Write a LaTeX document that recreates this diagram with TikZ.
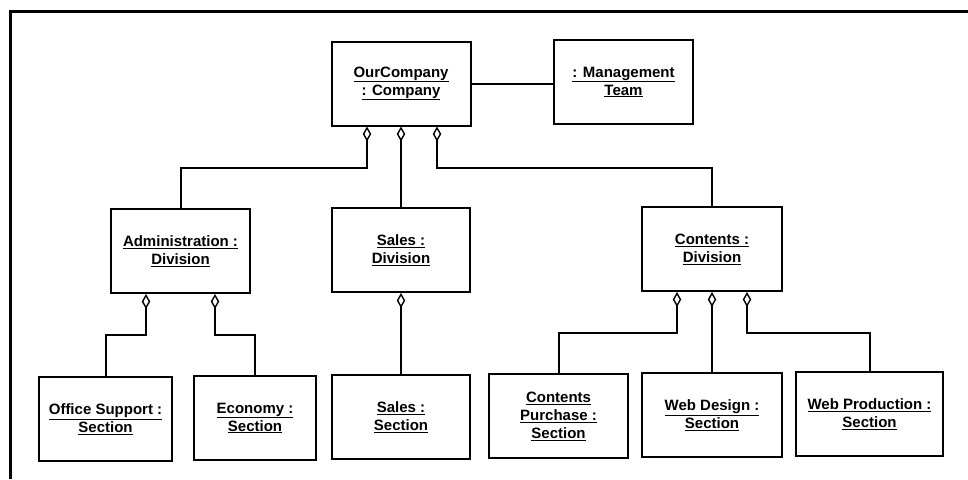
\documentclass[tikz,border=0pt]{standalone}
\usepackage{fontspec}
\setmainfont{Liberation Sans}
\usepackage{tikz}
\usetikzlibrary{arrows.meta}

\begin{document}
\begin{tikzpicture}[x=1pt,y=-1pt,line width=2pt,
  font=\bfseries\fontsize{15}{18}\selectfont]
\tikzset{
  obj/.style={draw,minimum height=84pt,minimum width=139pt,align=center,inner sep=0pt},
  agg/.style={{Diamond[open,length=15pt,width=8.5pt,line width=1.4pt]}-}
}
\useasboundingbox (0,0) rectangle (968,479);
% frame
\draw[line width=3.5pt] (10.5,479) -- (10.5,11.5) -- (968,11.5);

% top level
\node[obj] (oc) at (401,83.5) {\underline{OurCompany}\\\underline{: Company}};
\node[obj] (mt) at (623.5,82) {\underline{: Management}\\\underline{Team}};
\draw (oc.east) -- (oc.east -| mt.west);

% divisions
\node[obj] (adm) at (180.5,251) {\underline{Administration :}\\\underline{Division}};
\node[obj,minimum width=138pt] (sdiv) at (401,250) {\underline{Sales :}\\\underline{Division}};
\node[obj,minimum width=140pt] (cdiv) at (712,249) {\underline{Contents :}\\\underline{Division}};
\draw[agg] ([xshift=-34pt]oc.south) -- ++(0,41) -| (adm.north);
\draw[agg] (oc.south) -- (sdiv.north);
\draw[agg] ([xshift=36pt]oc.south) -- ++(0,41) -| (cdiv.north);

% sections
\node[obj,minimum width=133pt] (os) at (105.5,419) {\underline{Office Support :}\\\underline{Section}};
\node[obj,minimum width=122pt] (eco) at (255,418) {\underline{Economy :}\\\underline{Section}};
\node[obj,minimum width=138pt] (ss) at (401,417) {\underline{Sales :}\\\underline{Section}};
\node[obj] (cp) at (558.5,416) {\underline{Contents}\\\underline{Purchase :}\\\underline{Section}};
\node[obj,minimum width=140pt] (wd) at (712,415) {\underline{Web Design :}\\\underline{Section}};
\node[obj,minimum width=147pt] (wp) at (869.5,414) {\underline{Web Production :}\\\underline{Section}};
\draw[agg] ([xshift=-34.5pt]adm.south) -- ++(0,41) -| (os.north);
\draw[agg] ([xshift=34.5pt]adm.south) -- ++(0,41) -| (eco.north);
\draw[agg] (sdiv.south) -- (ss.north);
\draw[agg] ([xshift=-35pt]cdiv.south) -- ++(0,41) -| (cp.north);
\draw[agg] (cdiv.south) -- (wd.north);
\draw[agg] ([xshift=35pt]cdiv.south) -- ++(0,41) -| (wp.north);
\end{tikzpicture}
\end{document}
